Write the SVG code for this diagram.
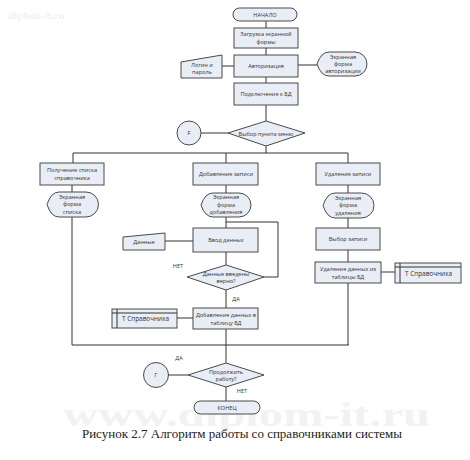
<svg xmlns="http://www.w3.org/2000/svg" width="470" height="460" viewBox="0 0 470 460">
<style>
.b{fill:#e9edf5;stroke:#4a4a4a;stroke-width:1}
.t{font-family:"Open Sans","Liberation Sans",sans-serif;font-size:5.6px;fill:#333;text-anchor:middle}
.l{font-family:"Open Sans","Liberation Sans",sans-serif;font-size:6.4px;fill:#333}
.c{stroke:#333;stroke-width:1;fill:none}
.wm{font-family:"Liberation Serif",serif;font-weight:bold;fill:#f2f2f2}
</style>
<rect width="470" height="460" fill="#fff"/>
<text class="wm" x="8" y="19" font-size="11" font-weight="normal" fill="#f0f0f0">diplom-it.ru</text>
<text class="wm" x="63" y="426" font-size="33" textLength="367" lengthAdjust="spacingAndGlyphs">www.diplom-it.ru</text>

<g id="connectors" class="c">
<path d="M266 21V28M266 48V55M266 77V83M266 105V121M222 66H234M298 65H317M201 133H228M266 146V153"/>
<path d="M73 153H348M73 153V163M226 153V163M348 153V163"/>
<path d="M72 185V192M72 217V345"/>
<path d="M226 185V193M226 217V228M226 222H278V277H264M165 241H193M226 252V265M226 290V308M177 318H193M226 329V363"/>
<path d="M348 185V193M348 218V228M348 250V262M381 272H395M348 283V345"/>
<path d="M72 345H349M168 375H188M226 387V401"/>
</g>

<g id="start"><rect class="b" x="233" y="8" width="64" height="13" rx="6.5"/><text class="t" x="265" y="16.5">НАЧАЛО</text></g>
<g id="load"><rect class="b" x="234" y="28" width="64" height="20"/><text class="t" x="266" y="36">Загрузка экранной</text><text class="t" x="266" y="44">формы</text></g>
<g id="auth"><rect class="b" x="234" y="55" width="64" height="22"/><text class="t" x="266" y="68">Авторизация</text></g>
<g id="login"><polygon class="b" points="181,62 222,55 222,78 181,78"/><text class="t" x="202" y="67">Логин и</text><text class="t" x="202" y="74">пароль</text></g>
<g id="authform"><path class="b" d="M317 64Q321 52 329 52H355A12 12 0 0 1 355 76H329Q321 76 317 64Z"/><text class="t" x="343" y="58.5">Экранная</text><text class="t" x="343" y="65.5">форма</text><text class="t" x="343" y="72.5">авторизации</text></g>
<g id="connect"><rect class="b" x="234" y="83" width="64" height="22"/><text class="t" x="266" y="96">Подключение к БД</text></g>
<g id="menu"><polygon class="b" points="228,133 266,121 305,133 266,146"/><text class="t" x="266" y="135.5" font-size="6.2">Выбор пункта меню</text></g>
<g id="circleF"><circle class="b" cx="189" cy="133" r="12"/><text class="t" x="189" y="135">F</text></g>

<g id="list"><rect class="b" x="40" y="163" width="64" height="22"/><text class="t" x="72" y="172">Получение списка</text><text class="t" x="72" y="180">справочника</text></g>
<g id="listform"><path class="b" d="M47 204.5Q51 192 59 192H86A12.5 12.5 0 0 1 86 217H59Q51 217 47 204.5Z"/><text class="t" x="72" y="198.5">Экранная</text><text class="t" x="72" y="206">форма</text><text class="t" x="72" y="213.5">списка</text></g>

<g id="add"><rect class="b" x="193" y="163" width="65" height="22"/><text class="t" x="226" y="176">Добавление записи</text></g>
<g id="addform"><path class="b" d="M201 205Q205 193 213 193H239A12 12 0 0 1 239 217H213Q205 217 201 205Z"/><text class="t" x="226" y="199">Экранная</text><text class="t" x="226" y="206.5">форма</text><text class="t" x="226" y="214">добавления</text></g>
<g id="input"><rect class="b" x="193" y="228" width="65" height="24"/><text class="t" x="226" y="242">Ввод данных</text></g>
<g id="data"><polygon class="b" points="123,237 165,233 165,250 123,250"/><text class="t" x="144" y="244" font-size="4.8">Данные</text></g>
<g id="check"><polygon class="b" points="187,277 226,265 264,277 226,290"/><text class="t" x="226" y="276">Данные введены</text><text class="t" x="226" y="283">верно?</text></g>
<text class="t" x="178" y="268">НЕТ</text>
<text class="t" x="236" y="301">ДА</text>
<g id="adddb"><rect class="b" x="193" y="308" width="65" height="21"/><text class="t" x="226" y="316.5">Добавление данных в</text><text class="t" x="226" y="324.5">таблицу БД</text></g>
<g id="table1"><rect class="b" x="112" y="309" width="65" height="19"/><path class="c" d="M117 309V328M112 313H177"/><text class="l" x="122" y="321">T Справочника</text></g>

<g id="del"><rect class="b" x="316" y="163" width="64" height="22"/><text class="t" x="348" y="176">Удаление записи</text></g>
<g id="delform"><path class="b" d="M323 205.5Q327 193 335 193H361.5A12.5 12.5 0 0 1 361.5 218H335Q327 218 323 205.5Z"/><text class="t" x="348" y="199.5">Экранная</text><text class="t" x="348" y="207">форма</text><text class="t" x="348" y="214.5">удаления</text></g>
<g id="select"><rect class="b" x="316" y="228" width="64" height="22"/><text class="t" x="348" y="241">Выбор записи</text></g>
<g id="deldb"><rect class="b" x="315" y="262" width="66" height="21"/><text class="t" x="348" y="270.5">Удаление данных из</text><text class="t" x="348" y="278.5">таблицы БД</text></g>
<g id="table2"><rect class="b" x="395" y="263" width="66" height="20"/><path class="c" d="M400 263V283M395 267H461"/><text class="l" x="405" y="276">T Справочника</text></g>

<g id="continue"><polygon class="b" points="188,375 226,363 264,375 226,387"/><text class="t" x="226" y="374">Продолжить</text><text class="t" x="226" y="381">работу?</text></g>
<text class="t" x="179" y="360">ДА</text>
<g id="circleG"><circle class="b" cx="156" cy="375" r="12.5"/><text class="t" x="156" y="377">Г</text></g>
<text class="t" x="242" y="393">НЕТ</text>
<g id="end"><rect class="b" x="194" y="401" width="66" height="13" rx="6.5"/><text class="t" x="227" y="409.5" font-size="4.8">КОНЕЦ</text></g>

<text x="242" y="438" font-family="Liberation Serif,serif" font-size="13" fill="#222" text-anchor="middle">Рисунок 2.7 Алгоритм работы со справочниками системы</text>
</svg>
